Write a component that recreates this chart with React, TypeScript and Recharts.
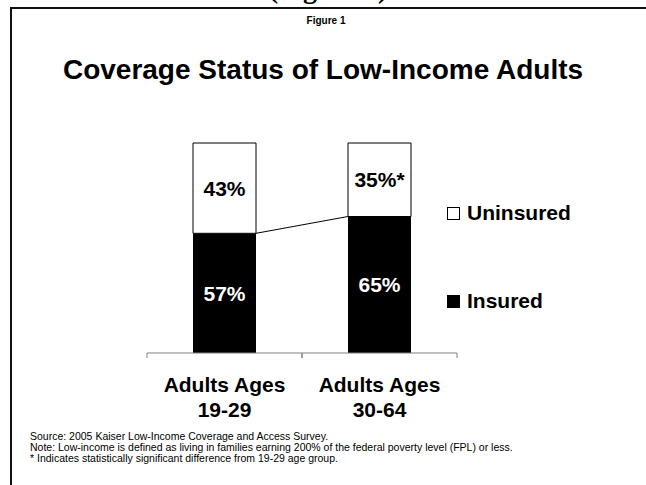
import { BarChart, Bar, XAxis, YAxis, LabelList } from 'recharts'

const categories = ['Adults Ages 19-29', 'Adults Ages 30-64']
const insured = [57, 65]
const uninsured = [43, 35]
const uninsuredMarks = ['', '*']

const legendItems = [
  { label: 'Uninsured', fill: '#ffffff' },
  { label: 'Insured', fill: '#000000' },
]

const footnotes = [
  'Source: 2005 Kaiser Low-Income Coverage and Access Survey.',
  'Note: Low-income is defined as living in families earning 200% of the federal poverty level (FPL) or less.',
  '* Indicates statistically significant difference from 19-29 age group.',
]

const data = categories.map((name, i) => ({
  name,
  insured: insured[i],
  uninsured: uninsured[i],
  insuredLabel: `${insured[i]}%`,
  uninsuredLabel: `${uninsured[i]}%${uninsuredMarks[i]}`,
}))

const SANS = '"Liberation Sans", Arial, Helvetica, sans-serif'
const AXIS = '#808080'
const W = 646
const H = 485

// top-right corner of the previous insured bar, so the next one can link to it
const corner: { x?: number; y?: number } = {}

const InsuredShape = (props: any) => {
  const { x, y, width, height, index } = props
  let link = null
  if (index === 0) {
    corner.x = x + width
    corner.y = y
  } else if (corner.x !== undefined) {
    link = <line x1={corner.x} y1={corner.y} x2={x} y2={y} stroke="#000" strokeWidth={1} />
  }
  return (
    <g>
      <rect x={x} y={y} width={width} height={height} fill="#000" />
      {link}
    </g>
  )
}

// tick marks sit between categories (band edges), label is two lines
const CategoryTick = ({ x, y, payload }: any) => {
  const v = String(payload.value)
  const cut = v.lastIndexOf(' ')
  const half = payload.offset ?? 0
  return (
    <g>
      {half > 0 && (
        <>
          <line x1={x - half} y1={y} x2={x - half} y2={y + 5} stroke={AXIS} />
          <line x1={x + half} y1={y} x2={x + half} y2={y + 5} stroke={AXIS} />
        </>
      )}
      <text x={x} textAnchor="middle" fontFamily={SANS} fontWeight="bold" fontSize={21} fill="#000">
        <tspan x={x} y={y + 39}>{v.slice(0, cut)}</tspan>
        <tspan x={x} y={y + 64}>{v.slice(cut + 1)}</tspan>
      </text>
    </g>
  )
}

export default function App() {
  return (
    <div style={{ position: 'absolute', left: 0, top: 0, width: W, height: H, background: '#fff' }}>
      <BarChart
        width={W}
        height={H}
        data={data}
        margin={{ top: 143, right: 189, left: 147, bottom: 67 }}
        style={{ position: 'absolute', left: 0, top: 0 }}
      >
        <XAxis
          dataKey="name"
          height={65}
          axisLine={{ stroke: AXIS }}
          tickLine={false}
          tickSize={0}
          tickMargin={0}
          tick={<CategoryTick />}
          interval={0}
        />
        <YAxis hide domain={[0, 100]} />
        <Bar
          dataKey="insured"
          stackId="s"
          barSize={63}
          fill="#000"
          shape={InsuredShape}
          isAnimationActive={false}
        >
          <LabelList
            dataKey="insuredLabel"
            position="center"
            fill="#fff"
            fontFamily={SANS}
            fontWeight="bold"
            fontSize={21}
          />
        </Bar>
        <Bar
          dataKey="uninsured"
          stackId="s"
          barSize={63}
          fill="#fff"
          stroke="#000"
          strokeWidth={1}
          isAnimationActive={false}
        >
          <LabelList
            dataKey="uninsuredLabel"
            position="center"
            fill="#000"
            fontFamily={SANS}
            fontWeight="bold"
            fontSize={21}
          />
        </Bar>
      </BarChart>

      <svg
        width={W}
        height={H}
        style={{ position: 'absolute', left: 0, top: 0, pointerEvents: 'none' }}
      >
        <text
          x={328}
          y={-2}
          textAnchor="middle"
          fontFamily='"Liberation Serif", "Times New Roman", serif'
          fontWeight="bold"
          fontSize={28}
        >
          (Figure 1)
        </text>
        <line x1={10} y1={8} x2={W} y2={8} stroke="#111" strokeWidth={2} />
        <line x1={11} y1={7} x2={11} y2={H} stroke="#111" strokeWidth={2} />

        <text x={326} y={24} textAnchor="middle" fontFamily={SANS} fontWeight="bold" fontSize={10}>
          Figure 1
        </text>
        <text x={323} y={79} textAnchor="middle" fontFamily={SANS} fontWeight="bold" fontSize={28}>
          Coverage Status of Low-Income Adults
        </text>

        {legendItems.map((item, i) => (
          <g key={item.label}>
            <rect x={447.5} y={207.5 + i * 88} width={12} height={12} fill={item.fill} stroke="#000" />
            <text x={467} y={220 + i * 88} fontFamily={SANS} fontWeight="bold" fontSize={21}>
              {item.label}
            </text>
          </g>
        ))}

        {footnotes.map((t, i) => (
          <text key={i} x={30} y={440 + i * 11} fontFamily={SANS} fontSize={10.5}>
            {t}
          </text>
        ))}
      </svg>
    </div>
  )
}
